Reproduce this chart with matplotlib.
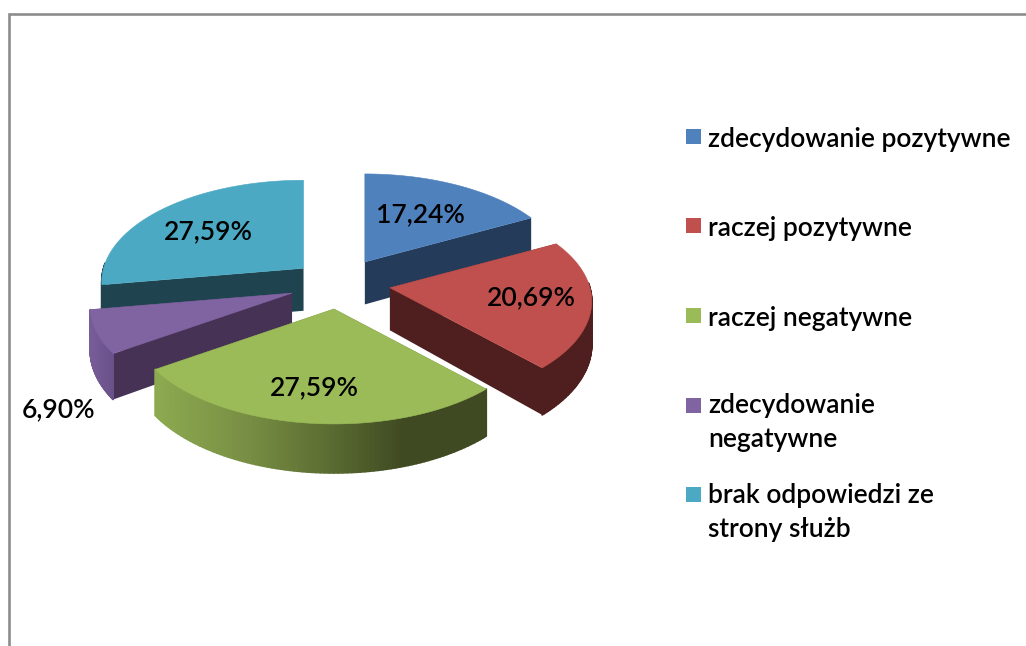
import numpy as np
import matplotlib
matplotlib.use("Agg")
import matplotlib.pyplot as plt
from matplotlib.collections import PolyCollection
from matplotlib.colors import LinearSegmentedColormap
from matplotlib.patches import Polygon, Rectangle

plt.rcParams["font.family"] = ["Lato", "DejaVu Sans"]

# data
categories = [
    "zdecydowanie pozytywne",
    "raczej pozytywne",
    "raczej negatywne",
    "zdecydowanie\nnegatywne",
    "brak odpowiedzi ze\nstrony służb",
]
values = [17.24, 20.69, 27.59, 6.90, 27.59]
value_labels = ["17,24%", "20,69%", "27,59%", "6,90%", "27,59%"]

# style
top_colors = ["#4F81BD", "#C0504D", "#9BBB59", "#8064A2", "#4BA9C4"]
wall_colors = ["#243B5A", "#4E1F1E", "#3F4A22", "#453254", "#1F444F"]
side_colors = [
    ["#243B5A", "#243B5A"],
    ["#4E1F1E", "#4E1F1E"],
    ["#8CAA50", "#7A9145", "#5E7033", "#3F4A22", "#3F4A22"],
    ["#775C98", "#6A5189"],
    ["#1F444F", "#1F444F"],
]
label_pos = [(420, 215), (531, 298), (314, 388), (59, 410), (208, 232)]
apex_nudge = [(-1, 0), (0, 0), (0, 0), (0, 0), (3, 1)]
legend_y = [136, 225, 315, 405, 494]
legend_text_y = [127, 216, 306, 393, 483]
draw_order = [4, 0, 3, 1, 2]

# pie geometry, in pixels
CX, CY = 339.5, 283.7
RX, RY = 200.0, 99.7
PERSP = 0.133
EXPLODE_X, EXPLODE_Y = 51.1, 25.4
DEPTH = 42.5


def rim(apex, t):
    """Rim points at angle t (clockwise from the top) and their wall depth."""
    u, v = np.sin(t), np.cos(t)
    w = 1 + PERSP * v
    return np.column_stack((apex[0] + RX * u / w, apex[1] - RY * v / w)), DEPTH / w


def wall(p, q, dp, dq):
    """Quad hanging below the edge p-q."""
    return [p, q, (q[0], q[1] + dq), (p[0], p[1] + dp)]


fig = plt.figure(figsize=(10.26, 6.46), dpi=100)
ax = fig.add_axes([0, 0, 1, 1])
ax.set_xlim(0, 1026)
ax.set_ylim(646, 0)
ax.axis("off")

# chart frame, only top and left are inside the crop
ax.plot([8.5, 8.5, 1026], [646, 13.5, 13.5], color="#8C8C8C", lw=1.9,
        solid_joinstyle="miter")

edges = 2 * np.pi * np.concatenate(([0], np.cumsum(values))) / np.sum(values)

for i in draw_order:
    t0, t1 = edges[i], edges[i + 1]
    mid = (t0 + t1) / 2
    apex = (CX + EXPLODE_X * np.sin(mid) + apex_nudge[i][0],
            CY - EXPLODE_Y * np.cos(mid) + apex_nudge[i][1])
    ts = np.linspace(t0, t1, 90)
    arc, depth = rim(apex, ts)

    # radial walls, the lower one goes last
    ends = sorted([0, len(arc) - 1], key=lambda k: arc[k][1])
    for k in ends:
        ax.add_patch(Polygon(wall(apex, arc[k], DEPTH, depth[k]), closed=True,
                             fc=wall_colors[i], ec="none"))

    # outer rim as thin strips so it can carry the gradient, front half only
    front = [k for k in range(len(arc) - 1) if np.cos(ts[k]) < 0.05]
    if front:
        cmap = LinearSegmentedColormap.from_list("side", side_colors[i])
        strips = [wall(arc[k], arc[k + 1], depth[k], depth[k + 1]) for k in front]
        xm = np.array([(arc[k][0] + arc[k + 1][0]) / 2 for k in front])
        shade = cmap((xm - xm.min()) / (xm.max() - xm.min()))
        ax.add_collection(PolyCollection(strips, facecolors=shade, edgecolors=shade, linewidths=1.2))

    top = np.vstack(([apex], arc))
    ax.add_patch(Polygon(top, closed=True, fc=top_colors[i], ec=top_colors[i], lw=0.4))

for lab, (x, y) in zip(value_labels, label_pos):
    ax.text(x, y, lab, ha="center", va="center", fontsize=19, fontweight=600, color="black")

for cat, col, y, ty in zip(categories, top_colors, legend_y, legend_text_y):
    ax.add_patch(Rectangle((686, y - 7.5), 15, 15, fc=col, ec="none"))
    ax.text(708, ty, cat, ha="left", va="top", fontsize=19, fontweight=600,
            color="black", linespacing=1.45)

fig.savefig("out.png", dpi=100)
